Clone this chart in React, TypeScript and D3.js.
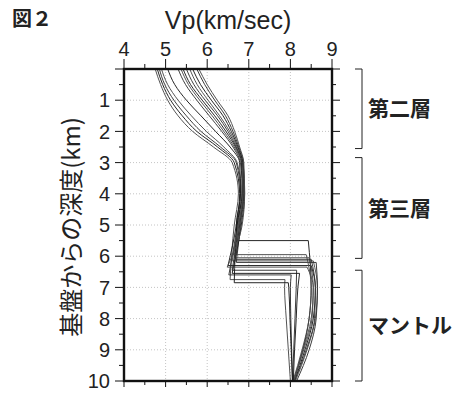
import React, { useEffect, useRef } from 'react';
import * as d3 from 'd3';

// Crust: velocity at these depths (km) for each profile
const crustDepths = [0, 0.5, 1, 1.5, 2, 2.5, 3, 4, 5];
const crustVp = [
  [4.75, 4.88, 5.05, 5.3, 5.65, 6.15, 6.6, 6.75, 6.65],
  [4.8, 4.93, 5.12, 5.4, 5.75, 6.25, 6.65, 6.78, 6.7],
  [4.85, 4.98, 5.2, 5.5, 5.85, 6.32, 6.7, 6.8, 6.72],
  [4.9, 5.05, 5.3, 5.62, 5.98, 6.4, 6.72, 6.82, 6.74],
  [5.05, 5.22, 5.5, 5.85, 6.2, 6.55, 6.78, 6.8, 6.7],
  [5.3, 5.48, 5.75, 6.05, 6.35, 6.62, 6.8, 6.85, 6.76],
  [5.37, 5.55, 5.82, 6.12, 6.4, 6.65, 6.82, 6.86, 6.78],
  [5.42, 5.6, 5.88, 6.18, 6.45, 6.68, 6.83, 6.84, 6.72],
  [5.5, 5.68, 5.95, 6.25, 6.5, 6.7, 6.84, 6.88, 6.8],
  [5.58, 5.76, 6.02, 6.3, 6.54, 6.72, 6.85, 6.86, 6.75],
  [5.65, 5.84, 6.1, 6.38, 6.58, 6.74, 6.86, 6.9, 6.82],
  [5.75, 5.94, 6.18, 6.44, 6.62, 6.76, 6.87, 6.88, 6.78],
  [5.8, 6.0, 6.24, 6.5, 6.66, 6.78, 6.88, 6.9, 6.84],
];

// Moho for each profile
const mohoDepth = [6.75, 6.3, 6.6, 6.15, 5.5, 6.45, 6.05, 6.85, 6.2, 5.95, 6.55, 6.1, 6.35];
const mohoCrustVp = [6.55, 6.5, 6.52, 6.6, 6.72, 6.6, 6.66, 6.65, 6.7, 6.62, 6.6, 6.68, 6.48];
const mohoMantleVp = [7.87, 8.5, 8.02, 8.55, 8.43, 8.15, 8.45, 7.95, 8.62, 8.38, 8.22, 8.5, 8.4];

// Mantle: velocity at these depths (km)
const mantleDepths = [7, 8, 9, 10];
const mantleVp = [
  [7.86, 7.9, 7.95, 8.0],
  [8.6, 8.55, 8.35, 8.1],
  [8.0, 8.01, 8.03, 8.05],
  [8.65, 8.6, 8.4, 8.12],
  [8.5, 8.45, 8.3, 8.08],
  [8.14, 8.11, 8.08, 8.05],
  [8.55, 8.5, 8.3, 8.08],
  [7.96, 7.99, 8.02, 8.05],
  [8.65, 8.62, 8.45, 8.15],
  [8.5, 8.45, 8.28, 8.06],
  [8.18, 8.14, 8.1, 8.07],
  [8.6, 8.58, 8.38, 8.1],
  [8.55, 8.52, 8.32, 8.08],
];

const vpTicks = [4, 5, 6, 7, 8, 9];
const depthTicks = [1, 2, 3, 4, 5, 6, 7, 8, 9, 10];

const layerNames = ['第二層', '第三層', 'マントル'];
const layerTop = [0, 2.84, 6.45];
const layerBottom = [2.55, 6.07, 10];

export default function App() {
  const svgRef = useRef<SVGSVGElement>(null);

  useEffect(() => {
    if (!svgRef.current) return;
    const root = d3.select(svgRef.current);
    root.selectAll('*').remove();

    const width = 464;
    const height = 393;
    const left = 124;
    const right = 332;
    const top = 69;
    const bottom = 381;
    const font = "'Liberation Sans', Arial, sans-serif";
    const jp = "'Noto Sans CJK JP', sans-serif";

    root.attr('width', width).attr('height', height);

    const x = d3.scaleLinear().domain([4, 9]).range([left, right]);
    const y = d3.scaleLinear().domain([0, 10]).range([top, bottom]);

    const halfX = d3.range(4, 9.01, 0.5);
    const halfY = d3.range(0, 10.01, 0.5);

    // grid
    const grid = root.append('g');
    grid
      .selectAll('.gx')
      .data(vpTicks.filter((d) => d > 4 && d < 9))
      .enter()
      .append('line')
      .attr('x1', (d) => x(d))
      .attr('x2', (d) => x(d))
      .attr('y1', top)
      .attr('y2', bottom)
      .attr('stroke', '#b5b5b5')
      .attr('stroke-width', 0.8)
      .attr('stroke-dasharray', '1,2');
    grid
      .selectAll('.gy')
      .data(depthTicks.filter((d) => d < 10))
      .enter()
      .append('line')
      .attr('x1', left)
      .attr('x2', right)
      .attr('y1', (d) => y(d))
      .attr('y2', (d) => y(d))
      .attr('stroke', '#b5b5b5')
      .attr('stroke-width', 0.8)
      .attr('stroke-dasharray', '1,2');

    // profiles
    const smooth = d3
      .line<[number, number]>()
      .x((d) => x(d[1]))
      .y((d) => y(d[0]))
      .curve(d3.curveMonotoneY);
    const straight = d3
      .line<[number, number]>()
      .x((d) => x(d[1]))
      .y((d) => y(d[0]));

    const prof = root.append('g').attr('fill', 'none').attr('stroke-linejoin', 'round');
    crustVp.forEach((row, i) => {
      const m = mohoDepth[i];
      const crust: [number, number][] = crustDepths
        .map((d, j) => [d, row[j]] as [number, number])
        .filter((p) => p[0] < m);
      crust.push([m, mohoCrustVp[i]]);
      const mantle: [number, number][] = [[m, mohoMantleVp[i]]];
      mantleDepths.forEach((d, j) => mantle.push([d, mantleVp[i][j]]));
      const shade = i % 3 === 0 ? '#4a4a4a' : i % 3 === 1 ? '#1a1a1a' : '#333';
      const path =
        (smooth(crust) || '') +
        (straight([crust[crust.length - 1], mantle[0]]) || '').replace(/^M[^L]*/, '') +
        (smooth(mantle) || '').replace(/^M[^CL]*/, '');
      prof
        .append('path')
        .attr('d', path)
        .attr('stroke', shade)
        .attr('stroke-width', 0.95);
    });

    // frame
    root
      .append('rect')
      .attr('x', left)
      .attr('y', top)
      .attr('width', right - left)
      .attr('height', bottom - top)
      .attr('fill', 'none')
      .attr('stroke', '#111')
      .attr('stroke-width', 2.4);

    const ticks = root.append('g').attr('stroke', '#111').attr('stroke-width', 1);
    halfX.forEach((v) => {
      const major = Math.abs(v - Math.round(v)) < 1e-6;
      ticks
        .append('line')
        .attr('x1', x(v))
        .attr('x2', x(v))
        .attr('y1', top)
        .attr('y2', top - (major ? 10 : 5));
      ticks
        .append('line')
        .attr('x1', x(v))
        .attr('x2', x(v))
        .attr('y1', bottom)
        .attr('y2', bottom + (major ? 6 : 4));
    });
    halfY.forEach((d) => {
      const major = Math.abs(d - Math.round(d)) < 1e-6;
      ticks
        .append('line')
        .attr('x1', left)
        .attr('x2', left - (major ? 9 : 5))
        .attr('y1', y(d))
        .attr('y2', y(d));
      ticks
        .append('line')
        .attr('x1', right)
        .attr('x2', right + (major ? 8 : 4))
        .attr('y1', y(d))
        .attr('y2', y(d));
    });

    // tick labels
    root
      .selectAll('.xl')
      .data(vpTicks)
      .enter()
      .append('text')
      .attr('x', (d) => x(d))
      .attr('y', 56)
      .attr('text-anchor', 'middle')
      .attr('font-family', font)
      .attr('font-size', 20)
      .attr('fill', '#222')
      .text((d) => d);
    root
      .selectAll('.yl')
      .data(depthTicks)
      .enter()
      .append('text')
      .attr('x', 110)
      .attr('y', (d) => y(d))
      .attr('dy', '0.36em')
      .attr('text-anchor', 'end')
      .attr('font-family', font)
      .attr('font-size', 20)
      .attr('fill', '#222')
      .text((d) => d);

    // titles
    root
      .append('text')
      .attr('x', 228)
      .attr('y', 29)
      .attr('text-anchor', 'middle')
      .attr('font-family', font)
      .attr('font-size', 25)
      .attr('fill', '#222')
      .text('Vp(km/sec)');
    root
      .append('text')
      .attr('x', 12)
      .attr('y', 26)
      .attr('font-family', jp)
      .attr('font-weight', 'bold')
      .attr('font-size', 20)
      .attr('fill', '#222')
      .text('図２');
    root
      .append('text')
      .attr('transform', `translate(80, ${(top + bottom) / 2 + 2}) rotate(-90)`)
      .attr('text-anchor', 'middle')
      .attr('font-family', jp)
      .attr('font-size', 24)
      .attr('fill', '#222')
      .text('基盤からの深度(km)');

    // layer brackets
    const br = root.append('g');
    layerNames.forEach((name, i) => {
      const y0 = y(layerTop[i]);
      const y1 = y(layerBottom[i]);
      br.append('path')
        .attr('d', `M355,${y0}H362V${y1}H355`)
        .attr('fill', 'none')
        .attr('stroke', '#222')
        .attr('stroke-width', 1);
      br.append('text')
        .attr('x', 368)
        .attr('y', (y0 + y1) / 2)
        .attr('dy', '0.36em')
        .attr('font-family', jp)
        .attr('font-weight', 'bold')
        .attr('font-size', 21)
        .attr('fill', '#222')
        .text(name);
    });
  }, []);

  return (
    <div style={{ position: 'absolute', left: 0, top: 0, background: '#fff' }}>
      <svg ref={svgRef} style={{ display: 'block' }}></svg>
    </div>
  );
}
